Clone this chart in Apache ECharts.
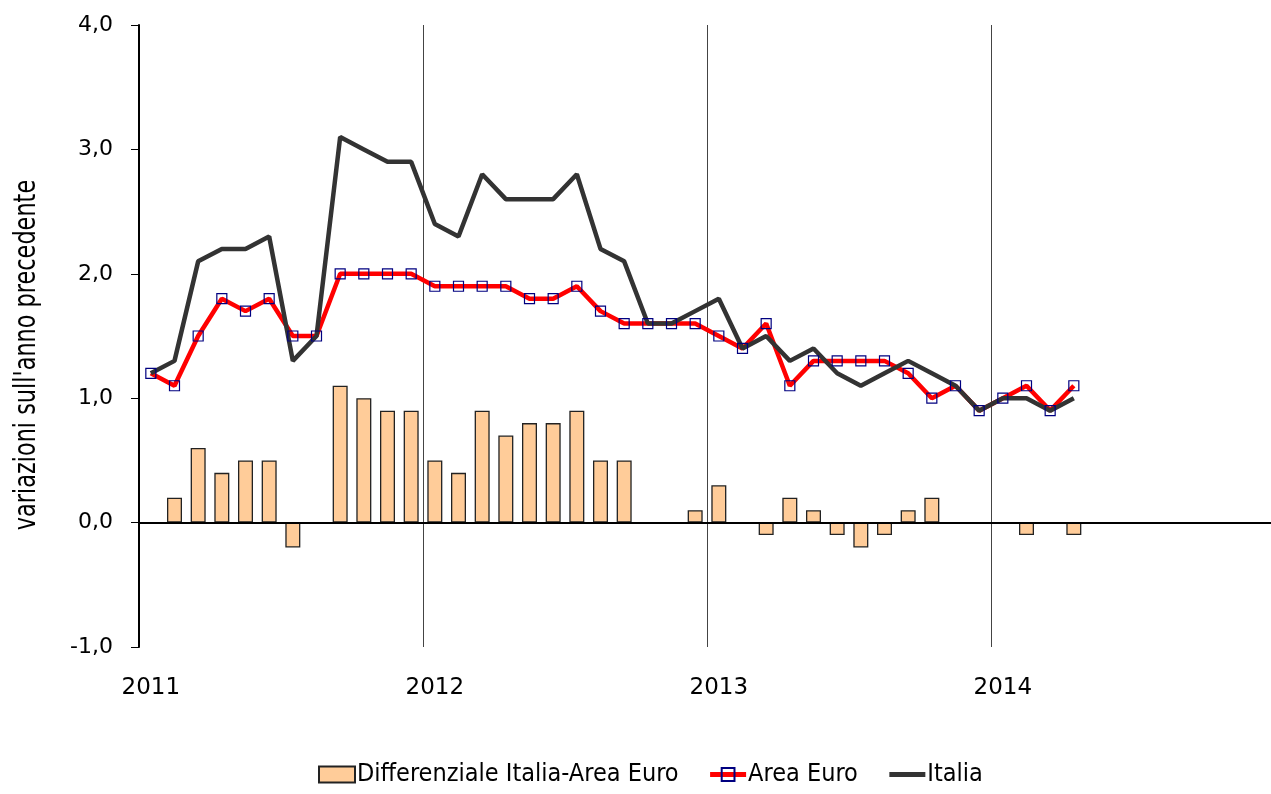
<!DOCTYPE html>
<html>
<head>
<meta charset="utf-8">
<script src="https://cdn.jsdelivr.net/npm/echarts@6/dist/echarts.min.js"></script>
<style>
  html, body { margin: 0; padding: 0; background: #fff; }
  #chart { width: 1271px; height: 794px; }
</style>
</head>
<body>
<div id="chart"></div>
<script>
// monthly, Jan 2011 - Dec 2014
var years = ['2011', '2012', '2013', '2014'];
var months = [];
years.forEach(function (y) {
    for (var m = 1; m <= 12; m++) {
        months.push(y + '-' + (m < 10 ? '0' + m : m));
    }
});

var areaEuro = [
    1.2, 1.1, 1.5, 1.8, 1.7, 1.8, 1.5, 1.5, 2.0, 2.0, 2.0, 2.0,
    1.9, 1.9, 1.9, 1.9, 1.8, 1.8, 1.9, 1.7, 1.6, 1.6, 1.6, 1.6,
    1.5, 1.4, 1.6, 1.1, 1.3, 1.3, 1.3, 1.3, 1.2, 1.0, 1.1, 0.9,
    1.0, 1.1, 0.9, 1.1
];
var italia = [
    1.2, 1.3, 2.1, 2.2, 2.2, 2.3, 1.3, 1.5, 3.1, 3.0, 2.9, 2.9,
    2.4, 2.3, 2.8, 2.6, 2.6, 2.6, 2.8, 2.2, 2.1, 1.6, 1.6, 1.7,
    1.8, 1.4, 1.5, 1.3, 1.4, 1.2, 1.1, 1.2, 1.3, 1.2, 1.1, 0.9,
    1.0, 1.0, 0.9, 1.0
];
// null = no bar drawn (zero gap)
var differenziale = [
    null, 0.2, 0.6, 0.4, 0.5, 0.5, -0.2, null, 1.1, 1.0, 0.9, 0.9,
    0.5, 0.4, 0.9, 0.7, 0.8, 0.8, 0.9, 0.5, 0.5, null, null, 0.1,
    0.3, null, -0.1, 0.2, 0.1, -0.1, -0.2, -0.1, 0.1, 0.2, null, null,
    null, -0.1, null, -0.1
];

var narrow = "'Liberation Sans Narrow', 'Arial Narrow', 'DejaVu Sans Condensed', sans-serif";
var wide = "'DejaVu Sans', Verdana, sans-serif";

var chart = echarts.init(document.getElementById('chart'));
var option = {
    animation: false,
    backgroundColor: '#fff',
    grid: { left: 139, top: 25, width: 1136, height: 622, outerBoundsMode: 'none' },
    legend: {
        bottom: 2,
        left: 318,
        padding: [5, 0],
        itemWidth: 36,
        itemHeight: 16,
        itemGap: 29,
        textStyle: { fontFamily: narrow, fontSize: 25, color: '#000', padding: [0, 0, 0, -3] },
        data: [
            { name: 'Differenziale Italia-Area Euro', icon: 'rect' },
            { name: 'Area Euro', lineStyle: { width: 5 } },
            { name: 'Italia', lineStyle: { width: 5 }, itemStyle: { opacity: 0 } }
        ]
    },
    graphic: [{
        type: 'text',
        x: 27,
        y: 355,
        rotation: Math.PI / 2,
        scaleX: 0.83,
        style: {
            text: "variazioni sull'anno precedente",
            fontFamily: narrow,
            fontSize: 30,
            fill: '#000',
            textAlign: 'center',
            textVerticalAlign: 'middle'
        }
    }],
    xAxis: {
        type: 'category',
        data: months,
        boundaryGap: true,
        axisLine: { show: false },
        axisTick: { show: false },
        axisLabel: {
            interval: function (i) { return i % 12 === 0; },
            formatter: function (v) { return v.slice(0, 4); },
            fontFamily: wide,
            fontSize: 23,
            color: '#000',
            margin: 30
        },
        splitLine: {
            show: true,
            interval: function (i) { return i > 0 && i % 12 === 0; },
            lineStyle: { color: '#444', width: 1 }
        }
    },
    yAxis: {
        type: 'value',
        min: -1,
        max: 4,
        interval: 1,
        axisLine: { show: true, onZero: false, lineStyle: { color: '#000', width: 2 } },
        axisTick: { show: true, length: 8, lineStyle: { color: '#000', width: 1 } },
        axisLabel: {
            formatter: function (v) { return v.toFixed(1).replace('.', ','); },
            fontFamily: wide,
            fontSize: 22,
            color: '#000',
            margin: 26
        },
        splitLine: { show: false }
    },
    series: [
        {
            name: 'Differenziale Italia-Area Euro',
            type: 'bar',
            data: differenziale,
            barWidth: 15,
            itemStyle: { color: '#FFCC99', borderColor: '#222', borderWidth: 1.3 },
            markLine: {
                silent: true,
                symbol: 'none',
                label: { show: false },
                lineStyle: { color: '#000', width: 2, type: 'solid' },
                data: [{ yAxis: 0 }]
            }
        },
        {
            name: 'Area Euro',
            type: 'line',
            data: areaEuro,
            symbol: 'rect',
            symbolSize: 10,
            showAllSymbol: true,
            lineStyle: { color: '#FF0000', width: 4.5 },
            itemStyle: { color: 'rgba(255,255,255,0)', borderColor: '#000080', borderWidth: 1.2 }
        },
        {
            name: 'Italia',
            type: 'line',
            data: italia,
            showSymbol: false,
            lineStyle: { color: '#333', width: 4.5 },
            itemStyle: { color: '#333' }
        }
    ]
};
chart.setOption(option);
</script>
</body>
</html>
